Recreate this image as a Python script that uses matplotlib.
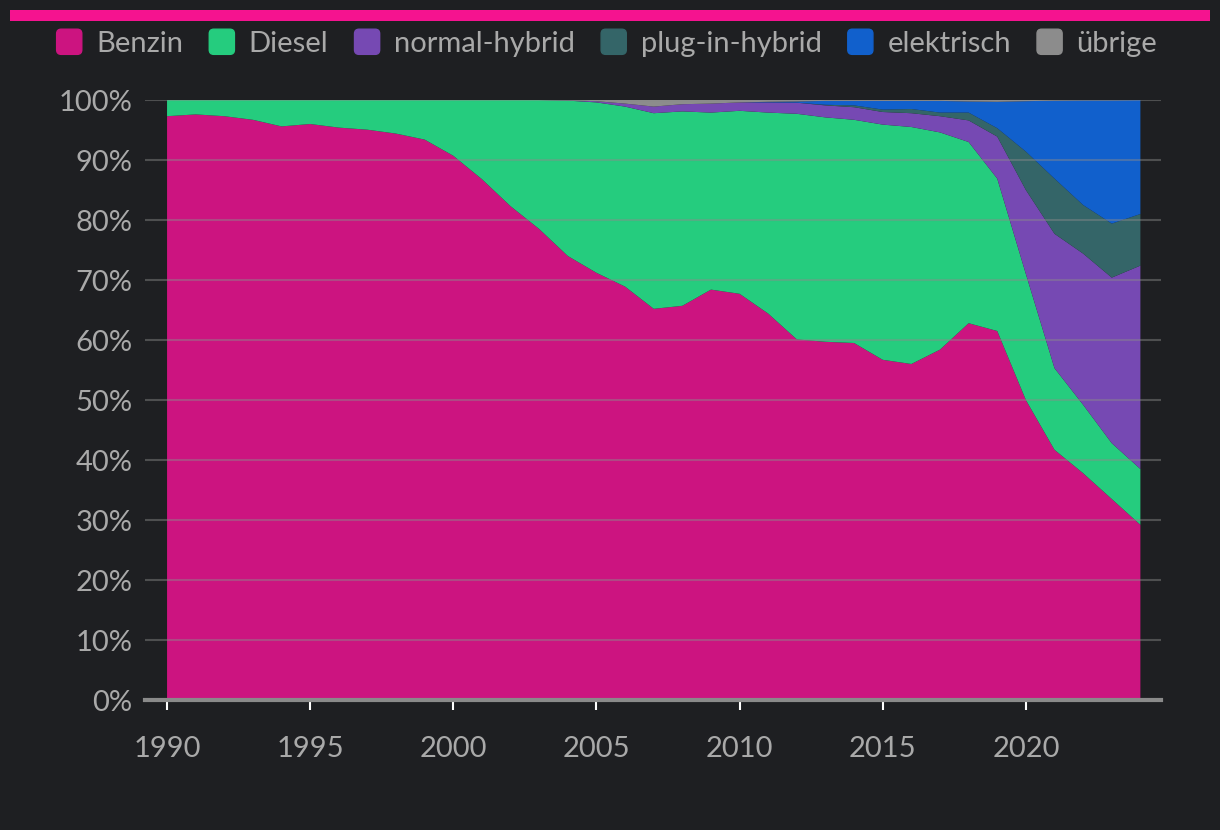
import numpy as np
import matplotlib.pyplot as plt
from matplotlib.patches import Rectangle, FancyBboxPatch
from matplotlib.legend_handler import HandlerPatch

plt.rcParams['font.family'] = ['Lato', 'DejaVu Sans']

years = np.arange(1990, 2025)

# share of new registrations in %, per fuel type
benzin = [97.3, 97.6, 97.3, 96.7, 95.6, 96.0, 95.4, 95.05, 94.4, 93.4,
          90.7, 86.8, 82.3, 78.5, 74.0, 71.2, 68.9, 65.2, 65.7, 68.4,
          67.7, 64.4, 60.1, 59.7, 59.5, 56.7, 56.0, 58.4, 62.8, 61.5,
          50.0, 41.7, 37.8, 33.5, 29.2]
diesel = [2.7, 2.4, 2.7, 3.3, 4.4, 4.0, 4.6, 4.95, 5.6, 6.6,
          9.3, 13.2, 17.7, 21.5, 25.9, 28.4, 30.0, 32.6, 32.4, 29.5,
          30.5, 33.5, 37.6, 37.4, 37.2, 39.2, 39.5, 36.2, 30.2, 25.4,
          21.0, 13.6, 11.4, 9.3, 9.3]
normal_hybrid = [0, 0, 0, 0, 0, 0, 0, 0, 0, 0,
                 0, 0, 0, 0, 0.05, 0.2, 0.5, 1.1, 1.2, 1.5,
                 1.4, 1.7, 1.85, 2.0, 2.1, 2.1, 2.3, 2.7, 3.6, 7.0,
                 14.0, 22.4, 25.2, 27.6, 33.9]
plugin_hybrid = [0, 0, 0, 0, 0, 0, 0, 0, 0, 0,
                 0, 0, 0, 0, 0, 0, 0, 0, 0, 0,
                 0, 0, 0, 0.1, 0.3, 0.4, 0.7, 0.6, 1.3, 1.4,
                 6.4, 9.2, 8.1, 9.0, 8.6]
elektrisch = [0, 0, 0, 0, 0, 0, 0, 0, 0, 0,
              0, 0, 0, 0, 0, 0, 0, 0, 0, 0,
              0, 0.1, 0.2, 0.65, 0.75, 1.45, 1.35, 1.95, 1.85, 4.4,
              8.4, 13.0, 17.45, 20.55, 19.0]
uebrige = [0, 0, 0, 0, 0, 0, 0, 0, 0, 0,
           0, 0, 0, 0, 0.05, 0.2, 0.6, 1.1, 0.7, 0.6,
           0.4, 0.3, 0.25, 0.15, 0.15, 0.15, 0.15, 0.15, 0.25, 0.3,
           0.2, 0.1, 0.05, 0.05, 0.0]

labels = ['Benzin', 'Diesel', 'normal-hybrid', 'plug-in-hybrid',
          'elektrisch', 'übrige']
colors = ['#cc1480', '#25cc7e', '#7649b3', '#346568', '#1160cc', '#8c8c8c']

bg = '#1e1f22'
text_col = '#a9a9a9'


def rounded_square(legend, orig_handle, xdescent, ydescent, width, height, fontsize):
    side = min(width, height)
    return FancyBboxPatch((-xdescent + (width - side) / 2, -ydescent + (height - side) / 2),
                          side, side, boxstyle=f'round,pad=0,rounding_size={side * 0.18}')


fig = plt.figure(figsize=(12.2, 8.3), dpi=100)
fig.patch.set_facecolor(bg)

# pink bar at the top
fig.add_artist(Rectangle((10 / 1220, 1 - 21 / 830), 1200 / 1220, 11 / 830,
                         transform=fig.transFigure, color='#f5138f', lw=0))

ax = fig.add_axes([145 / 1220, 1 - 700 / 830, 1016 / 1220, 600 / 830])
ax.set_facecolor(bg)

ax.stackplot(years, benzin, diesel, normal_hybrid, plugin_hybrid,
             elektrisch, uebrige, colors=colors, labels=labels,
             linewidth=0, zorder=1)

ax.set_xlim(1989.23, 2024.72)
ax.set_ylim(0, 100)
ax.set_xticks(np.arange(1990, 2025, 5))
ax.set_yticks(np.arange(0, 101, 10))
ax.set_yticklabels([f'{v}%' for v in range(0, 101, 10)])

ax.grid(axis='y', color='#8a8a8a', alpha=0.45, lw=1.5, zorder=3)
ax.set_axisbelow(False)
for s in ['top', 'right', 'left']:
    ax.spines[s].set_visible(False)
ax.spines['bottom'].set_color('#8a8a8a')
ax.spines['bottom'].set_linewidth(3)
ax.spines['bottom'].set_zorder(4)

ax.tick_params(axis='x', colors='white', labelcolor=text_col, length=7,
               width=1.5, pad=19, labelsize=21)
ax.tick_params(axis='y', length=0, pad=9, labelcolor=text_col, labelsize=21)

handles = [Rectangle((0, 0), 1, 1, color=c) for c in colors]
fig.legend(handles, labels, loc='center', bbox_to_anchor=(0.497, 1 - 43 / 830),
           ncol=6, frameon=False, fontsize=21, handlelength=0.95,
           handleheight=0.95, handletextpad=0.45, columnspacing=0.85,
           labelcolor=text_col,
           handler_map={Rectangle: HandlerPatch(patch_func=rounded_square)})

fig.savefig('out.png', dpi=100, facecolor=bg)
